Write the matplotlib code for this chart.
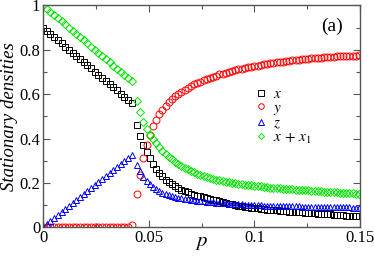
import numpy as np
import matplotlib
matplotlib.use('Agg')
import matplotlib.pyplot as plt

# ── Data ─────────────────────────────────────────────────────────────────────

# branch below the transition (p < ~0.043)
p_low = [0.0, 0.00175, 0.0035, 0.00525, 0.007, 0.00875, 0.0105, 0.01225,
         0.014, 0.01575, 0.0175, 0.01925, 0.021, 0.02275, 0.0245, 0.02625,
         0.028, 0.02975, 0.0315, 0.03325, 0.035, 0.03675, 0.0385, 0.04025,
         0.042]
x_low = [0.900, 0.886, 0.872, 0.857, 0.843, 0.829, 0.815, 0.801, 0.787,
         0.773, 0.758, 0.744, 0.730, 0.716, 0.702, 0.688, 0.673, 0.659,
         0.645, 0.631, 0.617, 0.603, 0.588, 0.574, 0.560]
y_low = [0.0, 0.0, 0.0, 0.0, 0.0, 0.0, 0.0, 0.0, 0.0, 0.0, 0.0, 0.0, 0.0,
         0.0, 0.0, 0.0, 0.0, 0.0, 0.0, 0.0, 0.0, 0.0, 0.0, 0.0, 0.012]
z_low = [0.000, 0.014, 0.027, 0.041, 0.055, 0.068, 0.082, 0.095, 0.109,
         0.123, 0.136, 0.150, 0.164, 0.177, 0.191, 0.204, 0.218, 0.232,
         0.245, 0.259, 0.273, 0.286, 0.300, 0.314, 0.327]
xx1_low = [1.000, 0.986, 0.972, 0.957, 0.943, 0.929, 0.915, 0.900, 0.886,
           0.872, 0.858, 0.843, 0.829, 0.815, 0.800, 0.786, 0.772, 0.758,
           0.744, 0.729, 0.715, 0.701, 0.686, 0.672, 0.658]

# branch above the transition
p_high = [0.0445, 0.0460, 0.0475, 0.0490, 0.0505, 0.0520, 0.0535, 0.0550,
          0.0565, 0.0580, 0.0595, 0.0610, 0.0625, 0.0640, 0.0655, 0.0670,
          0.0685, 0.0700, 0.0715, 0.0730, 0.0745, 0.0760, 0.0775, 0.0790,
          0.0805, 0.0820, 0.0835, 0.0850, 0.0865, 0.0880, 0.0895, 0.0910,
          0.0925, 0.0940, 0.0955, 0.0970, 0.0985, 0.1000, 0.1015, 0.1030,
          0.1045, 0.1060, 0.1075, 0.1090, 0.1105, 0.1120, 0.1135, 0.1150,
          0.1165, 0.1180, 0.1195, 0.1210, 0.1225, 0.1240, 0.1255, 0.1270,
          0.1285, 0.1300, 0.1315, 0.1330, 0.1345, 0.1360, 0.1375, 0.1390,
          0.1405, 0.1420, 0.1435, 0.1450, 0.1465, 0.1480, 0.1495]
x_high = [0.460, 0.412, 0.370, 0.340, 0.312, 0.286, 0.264, 0.245, 0.229,
          0.215, 0.203, 0.193, 0.184, 0.176, 0.169, 0.162, 0.157, 0.152,
          0.147, 0.143, 0.139, 0.135, 0.131, 0.127, 0.124, 0.121, 0.118,
          0.113, 0.110, 0.107, 0.104, 0.101, 0.098, 0.095, 0.093, 0.091,
          0.089, 0.087, 0.085, 0.083, 0.082, 0.080, 0.079, 0.078, 0.076,
          0.075, 0.073, 0.072, 0.071, 0.070, 0.069, 0.068, 0.067, 0.066,
          0.065, 0.064, 0.063, 0.062, 0.061, 0.060, 0.059, 0.058, 0.057,
          0.056, 0.055, 0.054, 0.053, 0.052, 0.051, 0.050, 0.049]
y_high = [0.150, 0.235, 0.312, 0.372, 0.418, 0.455, 0.485, 0.510, 0.531,
          0.549, 0.564, 0.578, 0.590, 0.601, 0.611, 0.620, 0.629, 0.637,
          0.644, 0.651, 0.657, 0.663, 0.669, 0.674, 0.679, 0.684, 0.689,
          0.693, 0.697, 0.701, 0.705, 0.708, 0.712, 0.715, 0.718, 0.721,
          0.724, 0.727, 0.729, 0.732, 0.734, 0.736, 0.739, 0.741, 0.743,
          0.745, 0.747, 0.749, 0.751, 0.752, 0.754, 0.756, 0.757, 0.759,
          0.760, 0.762, 0.763, 0.764, 0.765, 0.766, 0.767, 0.768, 0.769,
          0.770, 0.771, 0.772, 0.772, 0.773, 0.774, 0.774, 0.775]
z_high = [0.280, 0.255, 0.228, 0.208, 0.193, 0.181, 0.171, 0.163, 0.156,
          0.150, 0.145, 0.141, 0.137, 0.134, 0.131, 0.128, 0.126, 0.124,
          0.122, 0.120, 0.118, 0.117, 0.115, 0.114, 0.113, 0.111, 0.110,
          0.109, 0.108, 0.107, 0.106, 0.105, 0.104, 0.103, 0.102, 0.101,
          0.101, 0.100, 0.099, 0.099, 0.098, 0.098, 0.097, 0.097, 0.096,
          0.096, 0.095, 0.095, 0.095, 0.094, 0.094, 0.094, 0.093, 0.093,
          0.093, 0.092, 0.092, 0.092, 0.092, 0.091, 0.091, 0.091, 0.091,
          0.090, 0.090, 0.090, 0.090, 0.090, 0.089, 0.089, 0.089]
xx1_high = [0.570, 0.518, 0.474, 0.442, 0.418, 0.398, 0.380, 0.362, 0.346,
            0.331, 0.318, 0.306, 0.295, 0.285, 0.276, 0.268, 0.261, 0.254,
            0.248, 0.242, 0.237, 0.232, 0.227, 0.223, 0.219, 0.215, 0.212,
            0.209, 0.206, 0.203, 0.200, 0.198, 0.196, 0.194, 0.192, 0.190,
            0.189, 0.187, 0.185, 0.184, 0.182, 0.181, 0.179, 0.178, 0.177,
            0.175, 0.174, 0.173, 0.172, 0.171, 0.170, 0.169, 0.168, 0.167,
            0.166, 0.165, 0.164, 0.163, 0.162, 0.161, 0.160, 0.159, 0.158,
            0.157, 0.156, 0.155, 0.154, 0.154, 0.153, 0.152, 0.151]

labels = ['$x$', '$y$', '$z$', r'$x\,+\,x_{\mathit{1}}$']

# ── Plot ─────────────────────────────────────────────────────────────────────

plt.rcParams['font.family'] = ['Liberation Serif', 'DejaVu Serif']
plt.rcParams['mathtext.fontset'] = 'stix'

fig = plt.figure(figsize=(3.74, 2.58), dpi=100)
ax = fig.add_axes([0.115, 0.119, 0.8476, 0.8598])

p_all = p_low + p_high
series = [
    (x_low + x_high,     's', 'black',   4.6),
    (y_low + y_high,     'o', '#ff0000', 5.0),
    (z_low + z_high,     '^', '#0000ff', 5.0),
    (xx1_low + xx1_high, 'D', '#00e600', 3.8),
]
for (vals, mk, col, ms), lab in zip(series, labels):
    ax.plot(p_all, vals, linestyle='none', marker=mk, markersize=ms,
            markerfacecolor='none', markeredgecolor=col,
            markeredgewidth=0.7, label=lab)

ax.set_xlim(0, 0.15)
ax.set_ylim(0, 1)
ax.set_xticks([0, 0.05, 0.1, 0.15])
ax.set_xticklabels(['0', '0.05', '0.1', '0.15'])
ax.set_xticks([0.025, 0.075, 0.125], minor=True)
ax.set_yticks([0, 0.2, 0.4, 0.6, 0.8, 1.0])
ax.set_yticklabels(['0', '0.2', '0.4', '0.6', '0.8', '1'])
ax.set_yticks([0.1, 0.3, 0.5, 0.7, 0.9], minor=True)

ax.tick_params(which='both', direction='in', top=True, right=True,
               color='#555555', labelsize=12, pad=2)
ax.tick_params(which='major', length=5, width=0.8)
ax.tick_params(which='minor', length=3, width=0.8)
for s in ax.spines.values():
    s.set_color('#555555')
    s.set_linewidth(1.0)

ax.set_xlabel('$p$', fontsize=15)
ax.xaxis.set_label_coords(0.5, -0.025)
ax.set_ylabel('Stationary densities', fontsize=13.5, style='italic', labelpad=1)

ax.text(0.946, 0.905, '(a)', transform=ax.transAxes, fontsize=14,
        ha='right', va='center')

ax.legend(loc='upper left', bbox_to_anchor=(0.64, 0.673), frameon=False,
          fontsize=11, handlelength=0.8, handletextpad=0.4, labelspacing=0.0,
          markerscale=0.8, borderpad=0.1)

fig.savefig('out.png', dpi=100)
